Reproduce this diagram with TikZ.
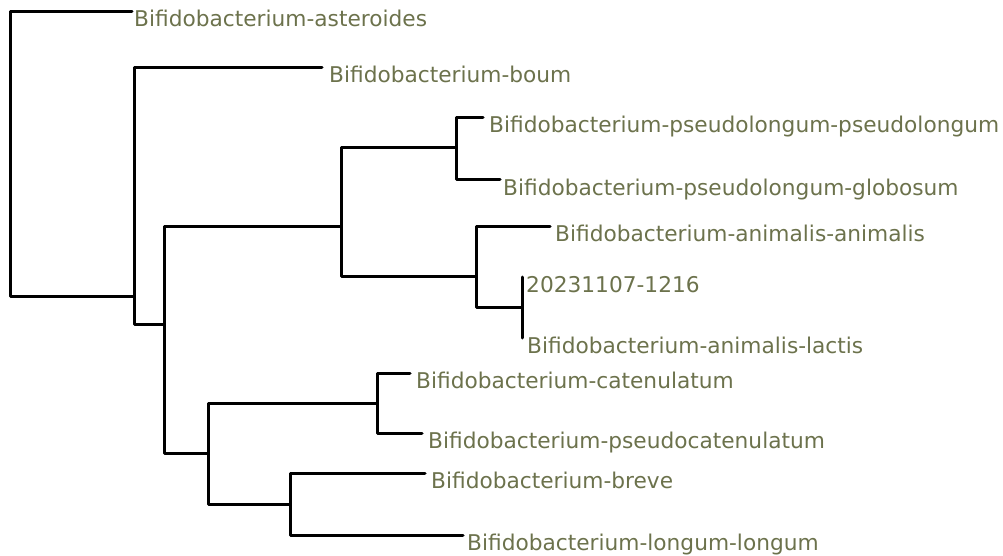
\documentclass[tikz,border=0pt]{standalone}
\usepackage{fontspec}
\setmainfont{DejaVu Sans}
\definecolor{leaftext}{RGB}{108,114,76}
\begin{document}
\begin{tikzpicture}[x=1pt,y=-1pt,
  branch/.style={draw=black,line width=3pt,line join=round,line cap=round},
  leaf/.style={anchor=base west,inner sep=0pt,text=leaftext,font=\fontsize{21.7}{26}\selectfont}]
\useasboundingbox (0,0) rectangle (1003,556);
% internal nodes
\coordinate (R) at (10,154);
\coordinate (A) at (134,296);
\coordinate (B) at (164,324);
\coordinate (C) at (341,226);
\coordinate (D) at (456,148);
\coordinate (E) at (476,276);
\coordinate (F) at (522,307);
\coordinate (G) at (208,453);
\coordinate (I) at (377,403);
\coordinate (H) at (290,504);
% leaf tips
\coordinate (tAst) at (132,12);
\coordinate (tBoum) at (322,68);
\coordinate (tPP) at (483,118);
\coordinate (tGlob) at (500,180);
\coordinate (tAA) at (550,226);
\coordinate (tNew) at (522,277);
\coordinate (tLac) at (522,338);
\coordinate (tCat) at (410,373);
\coordinate (tPCat) at (422,433);
\coordinate (tBre) at (425,473);
\coordinate (tLon) at (463,535);
% labels
\node[leaf] (lAst) at (134,27) {Bifidobacterium-asteroides};
\node[leaf] (lBoum) at (329,83) {Bifidobacterium-boum};
\node[leaf] (lPP) at (489,133) {Bifidobacterium-pseudolongum-pseudolongum};
\node[leaf] (lGlob) at (503,195) {Bifidobacterium-pseudolongum-globosum};
\node[leaf] (lAA) at (555,241) {Bifidobacterium-animalis-animalis};
\node[leaf] (lNew) at (526,292) {20231107-1216};
\node[leaf] (lLac) at (527,353) {Bifidobacterium-animalis-lactis};
\node[leaf] (lCat) at (416,388) {Bifidobacterium-catenulatum};
\node[leaf] (lPCat) at (428,448) {Bifidobacterium-pseudocatenulatum};
\node[leaf] (lBre) at (431,488) {Bifidobacterium-breve};
\node[leaf] (lLon) at (467,550) {Bifidobacterium-longum-longum};
% branches
\draw[branch] (R) |- (tAst);
\draw[branch] (R) |- (A);
\draw[branch] (A) |- (tBoum);
\draw[branch] (A) |- (B);
\draw[branch] (B) |- (C);
\draw[branch] (B) |- (G);
\draw[branch] (C) |- (D);
\draw[branch] (C) |- (E);
\draw[branch] (D) |- (tPP);
\draw[branch] (D) |- (tGlob);
\draw[branch] (E) |- (tAA);
\draw[branch] (E) |- (F);
\draw[branch] (F) |- (tNew);
\draw[branch] (F) |- (tLac);
\draw[branch] (G) |- (I);
\draw[branch] (G) |- (H);
\draw[branch] (I) |- (tCat);
\draw[branch] (I) |- (tPCat);
\draw[branch] (H) |- (tBre);
\draw[branch] (H) |- (tLon);
\end{tikzpicture}
\end{document}
